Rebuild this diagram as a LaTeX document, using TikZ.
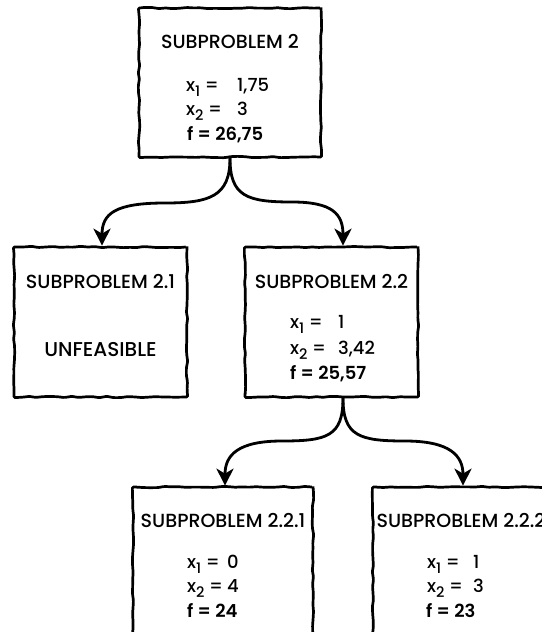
\documentclass[tikz,border=0pt]{standalone}
\usepackage{fontspec}
\setmainfont{Poppins}[UprightFont={* Medium}, BoldFont={* SemiBold}]
\usetikzlibrary{arrows.meta,decorations.pathmorphing}
% lowered index for the variable names
\newcommand\idx[1]{\raisebox{-0.55ex}{\fontsize{14.5}{14.5}\selectfont#1}}
\begin{document}
\pgfmathsetseed{7}
\begin{tikzpicture}[x=1pt,y=-1pt,
  box/.style={draw, line width=2.7pt, rounded corners=1.2pt,
    decorate, decoration={random steps, segment length=7pt, amplitude=0.7pt},
    minimum width=#1, minimum height=150pt, inner sep=0pt},
  title/.style={font=\fontsize{19}{19}\selectfont, anchor=base, inner sep=0pt},
  line/.style={font=\fontsize{18}{18}\selectfont, anchor=base west, inner sep=0pt},
  fline/.style={line, font=\fontsize{18}{18}\selectfont\bfseries},
  conn/.style={line width=2.8pt, line cap=round,
    -{Stealth[length=17pt, width=17pt, inset=5pt]}}]
\useasboundingbox (0,0) rectangle (541,632);

% the boxes
\node[box=182pt, minimum height=149pt] (b2) at (230,82.5) {};
\node[box=173pt] (b21) at (100.5,322) {};
\node[box=173pt] (b22) at (331.5,322) {};
\node[box=180pt, minimum height=210pt] (b221) at (223,592) {};
\node[box=180pt, minimum height=210pt] (b222) at (463,592) {};

% subproblem 2
\node[title] (t2) at (230,48) {SUBPROBLEM 2};
\node[line] (b2x1) at (186,91) {\makebox[51pt][l]{x\idx{1} =}1,75};
\node[line] (b2x2) at (186,115) {\makebox[51pt][l]{x\idx{2} =}3};
\node[fline] (b2f) at (187,140) {f = 26,75};

% subproblem 2.1
\node[title] (t21) at (100.5,288) {SUBPROBLEM 2.1};
\node[title, font=\fontsize{20}{20}\selectfont] (u21) at (100.5,356) {UNFEASIBLE};

% subproblem 2.2
\node[title] (t22) at (331.5,288) {SUBPROBLEM 2.2};
\node[line] (b22x1) at (290,328) {\makebox[48pt][l]{x\idx{1} =}1};
\node[line] (b22x2) at (290,354) {\makebox[48pt][l]{x\idx{2} =}3,42};
\node[fline] (b22f) at (290,379) {f = 25,57};

% subproblem 2.2.1
\node[title] (t221) at (223,527) {SUBPROBLEM 2.2.1};
\node[line] (b221x1) at (187,568) {\makebox[40pt][l]{x\idx{1} =}0};
\node[line] (b221x2) at (187,592) {\makebox[40pt][l]{x\idx{2} =}4};
\node[fline] (b221f) at (187,617) {f = 24};

% subproblem 2.2.2
\node[title] (t222) at (461,527) {SUBPROBLEM 2.2.2};
\node[line] (b222x1) at (427,568) {\makebox[46pt][l]{x\idx{1} =}1};
\node[line] (b222x2) at (427,592) {\makebox[46pt][l]{x\idx{2} =}3};
\node[fline] (b222f) at (426,617) {f = 23};

% branches
\draw[conn] (b2.south) .. controls +(0,38) and +(45,0) .. (165,203)
  .. controls +(-50,0) and +(0,-32) .. ([xshift=1.5pt]b21.north);
\draw[conn] (b2.south) .. controls +(0,38) and +(-45,0) .. (292,202)
  .. controls +(40,0) and +(0,-32) .. ([xshift=11.5pt]b22.north);
\draw[conn] ([xshift=11.5pt]b22.south) .. controls +(0,38) and +(45,0) .. (282,441)
  .. controls +(-45,0) and +(0,-30) .. ([xshift=2pt]b221.north);
\draw[conn] ([xshift=11.5pt]b22.south) .. controls +(0,38) and +(-45,0) .. (405,441)
  .. controls +(45,0) and +(0,-30) .. (b222.north);
\end{tikzpicture}
\end{document}
